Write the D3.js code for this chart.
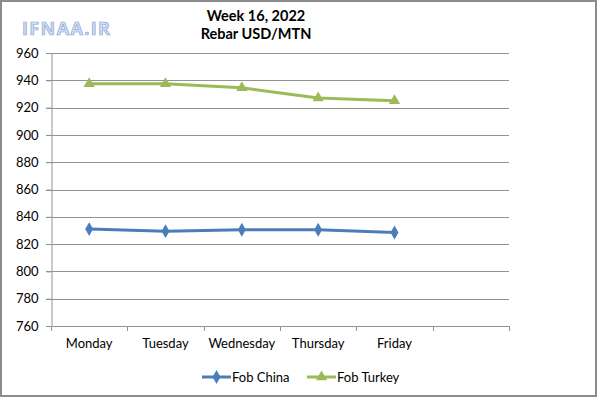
<!DOCTYPE html>
<html>
<head>
<meta charset="utf-8">
<script src="https://cdn.jsdelivr.net/npm/d3@7"></script>
<style>
  html, body { margin: 0; padding: 0; background: #fff; }
  svg { display: block; font-family: Lato, "Open Sans", sans-serif; }
</style>
</head>
<body>
<div id="chart"></div>
<script>
// Week 16, 2022 rebar prices (USD/MTN)
const days = ["Monday", "Tuesday", "Wednesday", "Thursday", "Friday", ""];
const fobChina = [831, 829.5, 830.5, 830.5, 828.5];
const fobTurkey = [937.5, 937.5, 934.5, 927, 925];
const yTicks = [760, 780, 800, 820, 840, 860, 880, 900, 920, 940, 960];

const series = [
  { name: "Fob China", values: fobChina, color: "#4a7ebb", shape: d3.symbolDiamond, size: 55 },
  { name: "Fob Turkey", values: fobTurkey, color: "#9bbb59", shape: d3.symbolTriangle, size: 55 }
];

const width = 600, height = 398;
const margin = { left: 51, right: 91, top: 53, bottom: 72 };

const svg = d3.select("#chart").append("svg")
  .attr("width", width)
  .attr("height", height);

// outer frame
svg.append("rect")
  .attr("x", 1).attr("y", 1)
  .attr("width", 595).attr("height", 395)
  .attr("fill", "#fff")
  .attr("stroke", "#8c8c8c")
  .attr("stroke-width", 2);

const x = d3.scaleBand()
  .domain(days.map((d, i) => i))
  .range([margin.left, width - margin.right]);

const y = d3.scaleLinear()
  .domain([760, 960])
  .range([height - margin.bottom, margin.top]);

// gridlines
svg.append("g")
  .selectAll("line")
  .data(yTicks)
  .join("line")
  .attr("x1", margin.left - 5)
  .attr("x2", width - margin.right)
  .attr("y1", d => Math.round(y(d)) + 0.5)
  .attr("y2", d => Math.round(y(d)) + 0.5)
  .attr("stroke", "#939393")
  .attr("stroke-width", 1);

// y axis
const yAxis = svg.append("g")
  .attr("transform", `translate(${margin.left + 0.5},0)`)
  .call(d3.axisLeft(y).tickValues(yTicks).tickSize(5).tickPadding(8).tickFormat(d3.format("d")));
yAxis.selectAll("path, line").attr("stroke", "#939393");
yAxis.selectAll("text").attr("font-size", 13).attr("fill", "#000").attr("font-family", "Lato, sans-serif");

// x axis tick marks at category boundaries
const boundaries = d3.range(days.length + 1).map(i => margin.left + i * x.step());
svg.append("g")
  .selectAll("line")
  .data(boundaries)
  .join("line")
  .attr("x1", d => Math.round(d) + 0.5)
  .attr("x2", d => Math.round(d) + 0.5)
  .attr("y1", y(760))
  .attr("y2", y(760) + 5)
  .attr("stroke", "#939393");

svg.append("g")
  .selectAll("text")
  .data(days)
  .join("text")
  .attr("x", (d, i) => x(i) + x.bandwidth() / 2)
  .attr("y", y(760) + 22)
  .attr("text-anchor", "middle")
  .attr("font-size", 13)
  .attr("fill", "#000")
  .text(d => d);

// lines + markers
const line = d3.line()
  .x((d, i) => x(i) + x.bandwidth() / 2)
  .y(d => y(d));

series.forEach(s => {
  svg.append("path")
    .datum(s.values)
    .attr("d", line)
    .attr("fill", "none")
    .attr("stroke", s.color)
    .attr("stroke-width", 3)
    .attr("stroke-linejoin", "round");

  svg.append("g")
    .selectAll("path")
    .data(s.values)
    .join("path")
    .attr("transform", (d, i) => `translate(${x(i) + x.bandwidth() / 2},${y(d)})`)
    .attr("d", d3.symbol().type(s.shape).size(s.size))
    .attr("fill", s.color);
});

// titles
svg.append("text")
  .attr("x", 256).attr("y", 21)
  .attr("text-anchor", "middle")
  .attr("font-size", 14.5).attr("font-weight", "bold")
  .text("Week 16, 2022");
svg.append("text")
  .attr("x", 256).attr("y", 39)
  .attr("text-anchor", "middle")
  .attr("font-size", 14.5).attr("font-weight", "bold")
  .text("Rebar USD/MTN");

// watermark
svg.append("text")
  .attr("x", 22).attr("y", 35)
  .attr("font-size", 18)
  .attr("font-weight", "bold")
  .attr("font-family", "'Open Sans', sans-serif")
  .attr("fill", "#cfdcf1")
  .attr("stroke", "#8aa7d6")
  .attr("stroke-width", 0.7)
  .attr("textLength", 88)
  .text("IFNAA.IR");

// legend
const legendItems = [
  { s: series[0], x: 202 },
  { s: series[1], x: 307 }
];
const lg = svg.append("g");
legendItems.forEach(item => {
  const g = lg.append("g").attr("transform", `translate(${item.x},377)`);
  g.append("line")
    .attr("x1", 0).attr("x2", 29)
    .attr("stroke", item.s.color).attr("stroke-width", 3);
  g.append("path")
    .attr("transform", "translate(14.5,0)")
    .attr("d", d3.symbol().type(item.s.shape).size(item.s.size))
    .attr("fill", item.s.color);
  g.append("text")
    .attr("x", 30).attr("y", 4.5)
    .attr("font-size", 13)
    .text(item.s.name);
});
</script>
</body>
</html>
